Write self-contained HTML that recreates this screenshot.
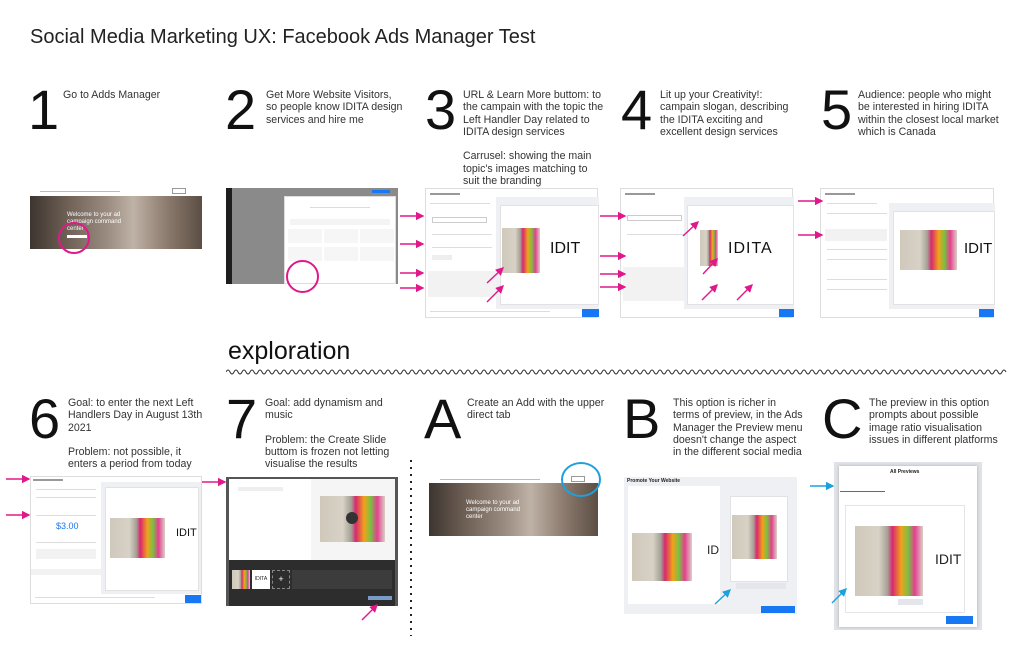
<!DOCTYPE html>
<html><head><meta charset="utf-8">
<style>
*{margin:0;padding:0;box-sizing:border-box}
body{width:1024px;height:662px;background:#fff;position:relative;overflow:hidden;font-family:"Liberation Sans",Arial,sans-serif;color:#222}
.a{position:absolute}
.title{left:30px;top:26px;font-size:20px;color:#222}
.num{font-size:56px;line-height:56px;color:#111;font-weight:400}
.txt{font-size:10.6px;line-height:12.3px;color:#333;white-space:nowrap}
.brain{background:linear-gradient(90deg,#cfc8bb 0%,#d8d2c6 35%,#a5a095 48%,#d9286f 55%,#f0a21a 68%,#79c043 78%,#e53f8f 88%,#d8d1c4 100%)}
.line{position:absolute;height:2px;background:#ddd}
.dlg{position:absolute;background:#fff;border:1px solid #ddd}
.prev{position:absolute;background:#eef0f3}
.card{position:absolute;background:#fff;border:1px solid #e2e2e2}
.blue{position:absolute;background:#1877f2}
.photo{position:absolute;background:linear-gradient(90deg,#3d3530 0%,#6b5d52 20%,#9a8c80 45%,#bfb2a6 60%,#8b7a6d 80%,#5c4e44 100%)}
</style></head><body>
<div class="a title">Social Media Marketing UX: Facebook Ads Manager Test</div>

<div class="a num" style="left:28px;top:82px">1</div>
<div class="a txt" style="left:63px;top:89px">Go to Adds Manager</div>
<div class="a num" style="left:225px;top:82px">2</div>
<div class="a txt" style="left:266px;top:89px">Get More Website Visitors,<br>so people know IDITA design<br>services and hire me</div>
<div class="a num" style="left:425px;top:82px">3</div>
<div class="a txt" style="left:463px;top:89px">URL &amp; Learn More buttom: to<br>the campain with the topic the<br>Left Handler Day related to<br>IDITA design services<br><br>Carrusel: showing the main<br>topic's images matching to<br>suit the branding</div>
<div class="a num" style="left:621px;top:82px">4</div>
<div class="a txt" style="left:660px;top:89px">Lit up your Creativity!:<br>campain slogan, describing<br>the IDITA exciting and<br>excellent design services</div>
<div class="a num" style="left:821px;top:82px">5</div>
<div class="a txt" style="left:858px;top:89px">Audience: people who might<br>be interested in hiring IDITA<br>within the closest local market<br>which is Canada</div>

<!-- Screenshot 1 -->
<div class="line" style="left:40px;top:191px;width:80px;height:1px;background:#bbb"></div>
<div class="a" style="left:172px;top:188px;width:14px;height:6px;border:1px solid #999"></div>
<div class="photo" style="left:30px;top:196px;width:172px;height:53px"></div>
<div class="a" style="left:67px;top:212px;font-size:6px;color:#fff;line-height:7px">Welcome to your ad<br>campaign command<br>center</div>
<div class="a" style="left:67px;top:235px;width:20px;height:3px;background:#fff"></div>
<div class="a" style="left:58px;top:222px;width:32px;height:32px;border:2px solid #e0188a;border-radius:50%"></div>

<!-- Screenshot 2 -->
<div class="a" style="left:226px;top:188px;width:172px;height:96px;background:#8a8a8a"></div>
<div class="a" style="left:226px;top:188px;width:6px;height:96px;background:#1e1e1e"></div>
<div class="a" style="left:372px;top:190px;width:18px;height:3px;background:#1877f2"></div>
<div class="dlg" style="left:284px;top:196px;width:112px;height:88px">
 <div class="line" style="left:25px;top:10px;width:60px;height:1px"></div>
 <div class="line" style="left:5px;top:22px;width:100px;height:6px;background:#f4f4f4"></div>
 <div class="line" style="left:3px;top:32px;width:34px;height:14px;background:#f6f6f6"></div>
 <div class="line" style="left:39px;top:32px;width:34px;height:14px;background:#f6f6f6"></div>
 <div class="line" style="left:75px;top:32px;width:34px;height:14px;background:#f6f6f6"></div>
 <div class="line" style="left:3px;top:50px;width:34px;height:14px;background:#f6f6f6"></div>
 <div class="line" style="left:39px;top:50px;width:34px;height:14px;background:#f6f6f6"></div>
 <div class="line" style="left:75px;top:50px;width:34px;height:14px;background:#f6f6f6"></div>
</div>
<div class="a" style="left:286px;top:260px;width:33px;height:33px;border:2px solid #e0188a;border-radius:50%"></div>

<!-- Screenshot 3 -->
<div class="dlg" style="left:425px;top:188px;width:173px;height:130px">
 <div class="line" style="left:4px;top:4px;width:30px;height:2px;background:#999"></div>
 <div class="line" style="left:4px;top:14px;width:60px;height:1px"></div>
 <div class="line" style="left:6px;top:28px;width:55px;height:6px;border:1px solid #ccc;background:#fff"></div>
 <div class="line" style="left:6px;top:45px;width:60px;height:1px"></div>
 <div class="line" style="left:6px;top:58px;width:60px;height:1px"></div>
 <div class="line" style="left:6px;top:66px;width:20px;height:5px;background:#eee"></div>
 <div class="line" style="left:2px;top:82px;width:68px;height:26px;background:#f2f2f2"></div>
 <div class="prev" style="left:70px;top:8px;width:103px;height:112px"></div>
 <div class="card" style="left:74px;top:16px;width:99px;height:100px"></div>
 <div class="line" style="left:4px;top:122px;width:120px;height:1px"></div>
 <div class="blue" style="left:156px;top:120px;width:17px;height:8px"></div>
</div>
<div class="brain a" style="left:502px;top:228px;width:38px;height:45px"></div>
<div class="a" style="left:550px;top:240px;font-size:16px;color:#111">IDIT</div>

<!-- Screenshot 4 -->
<div class="dlg" style="left:620px;top:188px;width:173px;height:130px">
 <div class="line" style="left:4px;top:4px;width:30px;height:2px;background:#999"></div>
 <div class="line" style="left:6px;top:26px;width:55px;height:6px;border:1px solid #ccc;background:#fff"></div>
 <div class="line" style="left:6px;top:45px;width:60px;height:1px"></div>
 <div class="line" style="left:2px;top:78px;width:62px;height:34px;background:#f2f2f2"></div>
 <div class="prev" style="left:63px;top:8px;width:110px;height:112px"></div>
 <div class="card" style="left:66px;top:16px;width:107px;height:100px"></div>
 <div class="blue" style="left:158px;top:120px;width:15px;height:8px"></div>
</div>
<div class="brain a" style="left:700px;top:230px;width:18px;height:36px"></div>
<div class="a" style="left:728px;top:240px;font-size:16px;color:#111;letter-spacing:1px">IDITA</div>

<!-- Screenshot 5 -->
<div class="dlg" style="left:820px;top:188px;width:174px;height:130px">
 <div class="line" style="left:4px;top:4px;width:30px;height:2px;background:#999"></div>
 <div class="line" style="left:6px;top:14px;width:50px;height:1px"></div>
 <div class="line" style="left:6px;top:24px;width:60px;height:1px"></div>
 <div class="line" style="left:4px;top:40px;width:62px;height:12px;background:#f2f2f2"></div>
 <div class="line" style="left:6px;top:60px;width:60px;height:1px"></div>
 <div class="line" style="left:6px;top:70px;width:60px;height:1px"></div>
 <div class="line" style="left:6px;top:90px;width:60px;height:1px"></div>
 <div class="line" style="left:6px;top:100px;width:60px;height:1px"></div>
 <div class="prev" style="left:68px;top:14px;width:106px;height:106px"></div>
 <div class="card" style="left:72px;top:22px;width:102px;height:94px"></div>
 <div class="blue" style="left:158px;top:120px;width:15px;height:8px"></div>
</div>
<div class="brain a" style="left:900px;top:230px;width:57px;height:40px"></div>
<div class="a" style="left:964px;top:240px;font-size:15px;color:#111">IDIT</div>

<div class="a" style="left:228px;top:337px;font-size:25px;color:#111">exploration</div>
<svg class="a" style="left:226px;top:367px" width="790" height="10">
<path id="w" d="" fill="none" stroke="#333" stroke-width="1"/>
<script>
var d="M0 5";for(var i=0;i<195;i++){d+=" q2 "+(i%2?4:-4)+" 4 0";}document.getElementById('w').setAttribute('d',d);
</script>
</svg>

<div class="a num" style="left:29px;top:391px">6</div>
<div class="a txt" style="left:68px;top:397px">Goal: to enter the next Left<br>Handlers Day in August 13th<br>2021<br><br>Problem: not possible, it<br>enters a period from today</div>
<div class="a num" style="left:226px;top:391px">7</div>
<div class="a txt" style="left:265px;top:397px">Goal: add dynamism and<br>music<br><br>Problem: the Create Slide<br>buttom is frozen not letting<br>visualise the results</div>
<div class="a num" style="left:424px;top:391px">A</div>
<div class="a txt" style="left:467px;top:397px">Create an Add with the upper<br>direct tab</div>
<div class="a num" style="left:623px;top:391px">B</div>
<div class="a txt" style="left:673px;top:397px">This option is richer in<br>terms of preview, in the Ads<br>Manager the Preview menu<br>doesn't change the aspect<br>in the different social media</div>
<div class="a num" style="left:822px;top:391px">C</div>
<div class="a txt" style="left:869px;top:397px">The preview in this option<br>prompts about possible<br>image ratio visualisation<br>issues in different platforms</div>

<!-- Screenshot 6 -->
<div class="dlg" style="left:30px;top:476px;width:172px;height:128px">
 <div class="line" style="left:2px;top:2px;width:30px;height:2px;background:#999"></div>
 <div class="line" style="left:5px;top:12px;width:60px;height:1px"></div>
 <div class="line" style="left:5px;top:20px;width:60px;height:1px"></div>
 <div class="line" style="left:5px;top:38px;width:60px;height:1px"></div>
 <div class="a" style="left:25px;top:44px;font-size:9px;color:#1877f2">$3.00</div>
 <div class="line" style="left:5px;top:65px;width:60px;height:1px"></div>
 <div class="line" style="left:5px;top:72px;width:60px;height:10px;background:#f2f2f2"></div>
 <div class="line" style="left:0px;top:92px;width:70px;height:6px;background:#f2f2f2"></div>
 <div class="prev" style="left:70px;top:5px;width:100px;height:112px"></div>
 <div class="card" style="left:74px;top:10px;width:94px;height:104px"></div>
 <div class="line" style="left:4px;top:120px;width:120px;height:1px"></div>
 <div class="blue" style="left:154px;top:118px;width:16px;height:8px"></div>
</div>
<div class="brain a" style="left:110px;top:518px;width:55px;height:40px"></div>
<div class="a" style="left:176px;top:527px;font-size:11px;color:#111">IDIT</div>

<!-- Screenshot 7 -->
<div class="a" style="left:226px;top:477px;width:172px;height:129px;background:#555"></div>
<div class="a" style="left:229px;top:479px;width:166px;height:81px;background:#fff"></div>
<div class="a" style="left:311px;top:479px;width:84px;height:81px;background:#f5f5f5"></div>
<div class="brain a" style="left:320px;top:496px;width:65px;height:46px"></div>
<div class="a" style="left:346px;top:512px;width:12px;height:12px;border-radius:50%;background:#333"></div>
<div class="line" style="left:238px;top:487px;width:45px;height:4px;background:#eee"></div>
<div class="a" style="left:229px;top:560px;width:166px;height:46px;background:#2d2d2d"></div>
<div class="brain a" style="left:232px;top:570px;width:18px;height:19px"></div>
<div class="a" style="left:252px;top:570px;width:18px;height:19px;background:#fff;font-size:5px;text-align:center;line-height:19px">IDITA</div>
<div class="a" style="left:272px;top:570px;width:18px;height:19px;border:1px dashed #888;color:#fff;font-size:9px;text-align:center;line-height:17px">+</div>
<div class="a" style="left:292px;top:570px;width:100px;height:19px;background:#3c3c3c"></div>
<div class="a" style="left:368px;top:596px;width:24px;height:4px;background:#7b9acc"></div>

<div class="a" style="left:410px;top:460px;width:2px;height:176px;background:repeating-linear-gradient(#222 0 2px,transparent 2px 7px)"></div>

<!-- Screenshot A -->
<div class="line" style="left:440px;top:479px;width:100px;height:1px;background:#bbb"></div>
<div class="a" style="left:571px;top:476px;width:14px;height:6px;border:1px solid #999"></div>
<div class="photo" style="left:429px;top:483px;width:169px;height:53px"></div>
<div class="a" style="left:466px;top:500px;font-size:6px;color:#fff;line-height:7px">Welcome to your ad<br>campaign command<br>center</div>
<div class="a" style="left:561px;top:462px;width:40px;height:35px;border:2px solid #1ea0dc;border-radius:50%"></div>

<!-- Screenshot B -->
<div class="a" style="left:624px;top:477px;width:173px;height:137px;background:#eef0f3"></div>
<div class="a" style="left:627px;top:478px;font-size:5px;font-weight:bold">Promote Your Website</div>
<div class="a" style="left:628px;top:486px;width:92px;height:118px;background:#fff"></div>
<div class="a" style="left:730px;top:496px;width:58px;height:86px;background:#fff;border:1px solid #e2e2e2"></div>
<div class="brain a" style="left:632px;top:533px;width:60px;height:48px"></div>
<div class="a" style="left:707px;top:543px;font-size:12px">ID</div>
<div class="brain a" style="left:732px;top:515px;width:45px;height:44px"></div>
<div class="line" style="left:736px;top:583px;width:50px;height:6px;background:#e4e6eb"></div>
<div class="blue" style="left:761px;top:606px;width:34px;height:7px"></div>

<!-- Screenshot C -->
<div class="a" style="left:834px;top:462px;width:148px;height:168px;background:#dfe3e8"></div>
<div class="a" style="left:839px;top:466px;width:138px;height:161px;background:#fff;box-shadow:0 0 3px #aaa"></div>
<div class="a" style="left:890px;top:469px;font-size:5px;font-weight:bold">All Previews</div>
<div class="line" style="left:840px;top:491px;width:45px;height:1px;background:#1877f2"></div>
<div class="a" style="left:845px;top:505px;width:120px;height:108px;background:#fff;border:1px solid #e5e5e5"></div>
<div class="brain a" style="left:855px;top:526px;width:68px;height:70px"></div>
<div class="a" style="left:935px;top:551px;font-size:14px">IDIT</div>
<div class="line" style="left:898px;top:599px;width:25px;height:6px;background:#e4e6eb"></div>
<div class="blue" style="left:946px;top:616px;width:27px;height:8px"></div>

<svg class="a" style="left:0;top:0" width="1024" height="662">
<defs>
<marker id="m" markerWidth="6" markerHeight="6" refX="5" refY="3" orient="auto"><path d="M0,0 L6,3 L0,6 z" fill="#e0188a"/></marker>
<marker id="b" markerWidth="6" markerHeight="6" refX="5" refY="3" orient="auto"><path d="M0,0 L6,3 L0,6 z" fill="#1ea0dc"/></marker>
</defs>
<g stroke="#e0188a" stroke-width="1.4" marker-end="url(#m)">
<line x1="400" y1="216" x2="423" y2="216"/>
<line x1="400" y1="244" x2="423" y2="244"/>
<line x1="400" y1="273" x2="423" y2="273"/>
<line x1="400" y1="288" x2="423" y2="288"/>
<line x1="487" y1="283" x2="503" y2="268"/>
<line x1="487" y1="302" x2="503" y2="286"/>
<line x1="600" y1="216" x2="625" y2="216"/>
<line x1="600" y1="256" x2="625" y2="256"/>
<line x1="600" y1="274" x2="625" y2="274"/>
<line x1="600" y1="287" x2="625" y2="287"/>
<line x1="683" y1="236" x2="698" y2="222"/>
<line x1="703" y1="274" x2="717" y2="259"/>
<line x1="702" y1="300" x2="717" y2="285"/>
<line x1="737" y1="300" x2="752" y2="285"/>
<line x1="798" y1="201" x2="822" y2="201"/>
<line x1="798" y1="235" x2="822" y2="235"/>
<line x1="6" y1="479" x2="29" y2="479"/>
<line x1="6" y1="515" x2="29" y2="515"/>
<line x1="202" y1="482" x2="225" y2="482"/>
<line x1="362" y1="620" x2="377" y2="605"/>
</g>
<g stroke="#1ea0dc" stroke-width="1.4" marker-end="url(#b)">
<line x1="715" y1="604" x2="730" y2="590"/>
<line x1="810" y1="486" x2="833" y2="486"/>
<line x1="832" y1="603" x2="846" y2="589"/>
</g>
</svg>
</body></html>
